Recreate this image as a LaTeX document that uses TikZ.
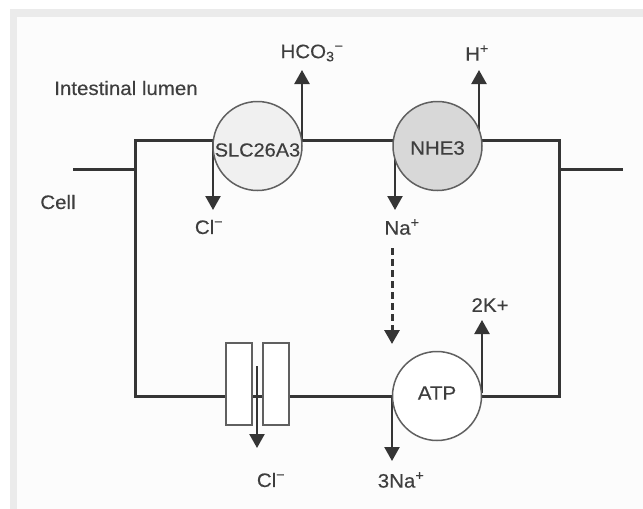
\documentclass[tikz,border=0pt]{standalone}
\usepackage{fontspec}
\setmainfont{Liberation Sans}[FakeStretch=1.05,FakeBold=0.3]
\usetikzlibrary{arrows.meta}
\pgfdeclarelayer{back}
\pgfdeclarelayer{bg}
\pgfsetlayers{back,bg,main}
\definecolor{ink}{HTML}{353535}
\definecolor{txt}{HTML}{3E3E3E}
\definecolor{rim}{HTML}{606060}
\definecolor{framegray}{HTML}{EBEBEB}
\definecolor{paper}{HTML}{FCFCFC}
\definecolor{nhefill}{HTML}{D8D8D8}
\definecolor{slcfill}{HTML}{F0F0F0}
\newcommand{\mn}{\textsuperscript{−}}
\begin{document}
\begin{tikzpicture}[x=1pt,y=-1pt,
  membrane/.style={draw=ink,line width=3pt},
  transporter/.style={circle,draw=rim,line width=1.5pt,minimum size=89pt,inner sep=0pt,
    text=txt,font=\fontsize{19.5}{22}\selectfont},
  gate/.style={draw=rim,line width=1.5pt,fill=white,minimum width=26pt,minimum height=82pt,inner sep=0pt},
  lbl/.style={text=txt,font=\fontsize{19.5}{22}\selectfont,inner sep=1pt},
  ion/.style={draw=ink,line width=2.3pt,-{Triangle[width=15pt,length=14pt]}},
  flow/.style={draw=ink,line width=3pt,dash pattern=on 7pt off 4pt,-{Triangle[width=15pt,length=14pt]}}]
\useasboundingbox (0,0) rectangle (643,509);
\begin{pgfonlayer}{back}
\fill[white] (0,0) rectangle (643,509);
\fill[framegray] (10,9) rectangle (643,509);
\fill[paper] (17,17) rectangle (643,509);
\end{pgfonlayer}

% membrane
\draw[membrane] (135,140) rectangle (559,396);
\draw[membrane] (73,169) coordinate (stubL) -- (135,169) coordinate (boxL);
\draw[membrane] (559,169) coordinate (boxR) -- (623,169) coordinate (stubR);

% transporters
\node[transporter,fill=slcfill] (slc) at (257.5,146) {};
\node[lbl,font=\fontsize{19}{22}\selectfont] (slct) at (257.5,150) {SLC26A3};
\node[transporter,fill=nhefill] (nhe) at (437.5,146) {};
\node[lbl] (nhet) at (437.5,148) {NHE3};
\node[transporter,fill=white] (atp) at (437,396) {};
\node[lbl] (atpt) at (437,393) {ATP};

% channel
\node[gate] (gl) at (239,384) {};
\node[gate] (gr) at (276,384) {};

% labels
\node[lbl] (lumen) at (126,88) {Intestinal lumen};
\node[lbl] (cell) at (58,202) {Cell};
\node[lbl] (hco) at (312,53) {HCO\textsubscript{3}\mn};
\node[lbl] (hp) at (477,53) {H\textsuperscript{+}};
\node[lbl] (cl1) at (209,227) {Cl\mn};
\node[lbl] (na1) at (402,227) {Na\textsuperscript{+}};
\node[lbl] (kk) at (490,305) {2K+};
\node[lbl] (cl2) at (271,480) {Cl\mn};
\node[lbl] (na3) at (401,480) {3Na\textsuperscript{+}};

% connectors
\coordinate (slcL) at (213,140);
\coordinate (slcR) at (302,140);
\coordinate (nheL) at (395,140);
\coordinate (nheR) at (479,140);
\coordinate (atpL) at (392,396);
\coordinate (atpR) at (482,393);
\coordinate (chanTop) at (257,366);
\coordinate (dashTop) at (392,248);
\begin{pgfonlayer}{bg}
\draw[ion] (slcL) -- (slcL |- 0,210);
\draw[ion] (slcR) -- (slcR |- 0,70);
\draw[ion] (nheL) -- (nheL |- 0,210);
\draw[ion] (nheR) -- (nheR |- 0,70);
\draw[ion] (atpL) -- (atpL |- 0,461);
\draw[ion] (atpR) -- (atpR |- 0,320);
\end{pgfonlayer}
\draw[flow] (dashTop) -- (dashTop |- 0,344);
\draw[ion] (chanTop) -- (chanTop |- 0,448);
\end{tikzpicture}
\end{document}
